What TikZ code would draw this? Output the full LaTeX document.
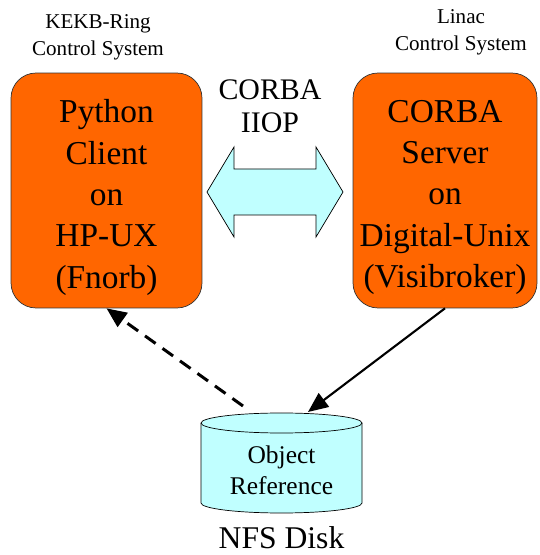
\documentclass[tikz,border=0pt]{standalone}
\usepackage{fontspec}
\setmainfont{Liberation Serif}
\usetikzlibrary{arrows.meta}
\definecolor{boxorange}{RGB}{255,102,0}
\definecolor{lightcyan}{RGB}{192,255,255}
\begin{document}
\begin{tikzpicture}[x=0.02cm,y=0.02cm,
    hostbox/.style={draw=black!80,thin,fill=boxorange,rounded corners=0.5cm,
      inner sep=0pt,minimum height=4.7cm},
    hosttext/.style={align=center,font=\fontsize{19}{23.6}\selectfont,yshift=-0.14cm},
    sysname/.style={align=center,font=\fontsize{12}{15.5}\selectfont,inner sep=0pt},
    ref/.style={-{Triangle[length=0.4cm,width=0.34cm]},line width=1.2pt}]
  \useasboundingbox (0,0) rectangle (539,555);

    \node[sysname] (kekb) at (98,518) {KEKB-Ring\\Control System};
    \node[sysname] (linac) at (461,523) {Linac\\Control System};

  \node[hostbox,minimum width=3.82cm,label={[hosttext]center:Python\\Client\\on\\HP-UX\\(Fnorb)}] (client) at (106.5,364.5) {};
  \node[hostbox,minimum width=3.68cm,label={[hosttext]center:CORBA\\Server\\on\\Digital-Unix\\(Visibroker)}] (server) at (445,364.5) {};

    \node[align=center,font=\fontsize{17}{19}\selectfont] (iiop) at (270,449) {CORBA\\IIOP};
  \draw [thin,fill=lightcyan] (207,363) -- (234,408) -- (234,386) -- (316,386) -- (316,408)
    -- (343,363) -- (316,318) -- (316,340) -- (234,340) -- (234,318) -- cycle;

  % NFS disk
  \draw [thin,fill=lightcyan] (201,132) -- (201,52) arc[start angle=180,end angle=360,x radius=80.5,y radius=10]
    -- (362,132) arc[start angle=0,end angle=180,x radius=80.5,y radius=10];
  \draw [thin] (201,132) arc[start angle=180,end angle=360,x radius=80.5,y radius=10];
    \node[align=center,font=\fontsize{14.5}{17.5}\selectfont] (disk) at (281.5,85) {Object\\Reference};
    \node[font=\fontsize{18}{20}\selectfont] (nfs) at (281.5,17) {NFS Disk};
  \coordinate (disktop) at (308,143);
  \coordinate (diskleft) at (243,149);

  \draw [ref] (server.south) -- (disktop);
  \draw [ref,line width=1.7pt,dash pattern=on 0.26cm off 0.17cm] (diskleft) -- (client.south);
\end{tikzpicture}
\end{document}
